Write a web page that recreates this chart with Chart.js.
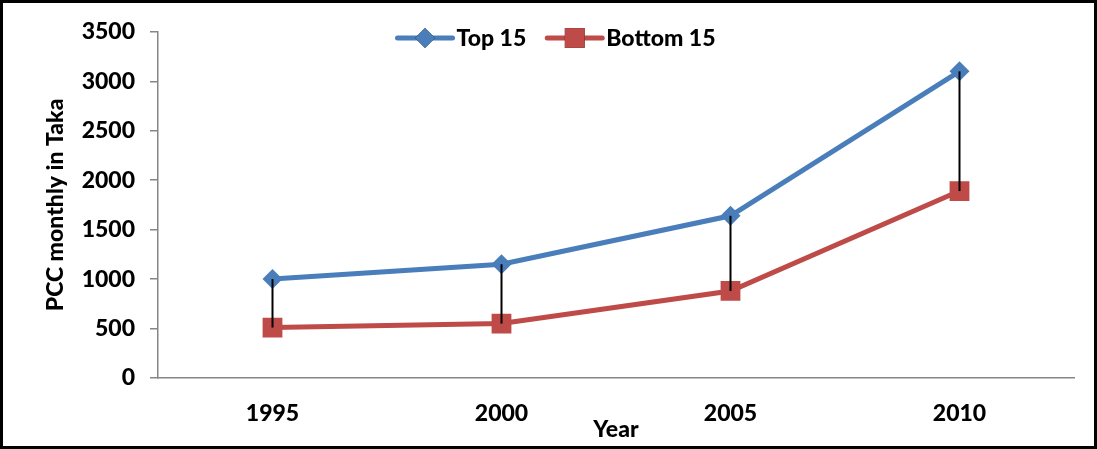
<!DOCTYPE html>
<html>
<head>
<meta charset="utf-8">
<script src="https://cdn.jsdelivr.net/npm/chart.js@4.4.1/dist/chart.umd.min.js"></script>
<style>
  html, body { margin: 0; padding: 0; background: #fff; }
  #wrap { width: 1097px; height: 449px; box-sizing: border-box; border: 3px solid #000; position: relative; }
  #wrap canvas { display: block; }
</style>
</head>
<body>
<div id="wrap"><canvas id="lineChart" width="1091" height="443"></canvas></div>
<script>
const years = ['1995', '2000', '2005', '2010'];
const top15 = [1000, 1150, 1640, 3100];
const bottom15 = [510, 550, 880, 1890];
const yTicks = [0, 500, 1000, 1500, 2000, 2500, 3000, 3500];

const FONT = 'Lato, "Open Sans", sans-serif';
const WEIGHT = '900';
const BLUE = '#4a7ebb';
const RED = '#be4b48';
const AXIS = '#868686';

// black vertical lines joining the two series at each year
const highLowLines = {
  id: 'highLowLines',
  afterDatasetsDraw(chart) {
    const a = chart.getDatasetMeta(0).data;
    const b = chart.getDatasetMeta(1).data;
    const ctx = chart.ctx;
    ctx.save();
    ctx.strokeStyle = '#000';
    ctx.lineWidth = 2;
    for (let i = 0; i < a.length; i++) {
      ctx.beginPath();
      ctx.moveTo(a[i].x, a[i].y);
      ctx.lineTo(b[i].x, b[i].y);
      ctx.stroke();
    }
    ctx.restore();
  }
};

// excel style legend: short line with the marker in the middle
const lineLegend = {
  id: 'lineLegend',
  afterDraw(chart) {
    const ctx = chart.ctx;
    const lineW = 55, gapText = 4, gapItem = 21;
    ctx.save();
    ctx.font = WEIGHT + ' 23px ' + FONT;
    ctx.textBaseline = 'middle';
    const items = chart.data.datasets.map(ds => ({ ds, w: ctx.measureText(ds.label).width }));
    let total = 0;
    items.forEach((it, i) => { total += lineW + gapText + it.w + (i ? gapItem : 0); });
    let x = chart.width / 2 + 8 - total / 2;
    const y = 35;
    items.forEach(it => {
      const ds = it.ds;
      ctx.strokeStyle = ds.borderColor;
      ctx.lineWidth = ds.borderWidth;
      ctx.lineCap = 'round';
      ctx.beginPath();
      ctx.moveTo(x, y);
      ctx.lineTo(x + lineW, y);
      ctx.stroke();
      Chart.helpers.drawPoint(ctx, {
        pointStyle: ds.pointStyle, radius: ds.pointRadius, borderWidth: 0, rotation: 0
      }, x + lineW / 2, y);
      ctx.fillStyle = ds.backgroundColor;
      ctx.fill();
      ctx.fillStyle = '#000';
      ctx.fillText(ds.label, x + lineW + gapText, y + 1);
      x += lineW + gapText + it.w + gapItem;
    });
    ctx.restore();
  }
};

new Chart(document.getElementById('lineChart'), {
  type: 'line',
  data: {
    labels: years,
    datasets: [
      {
        label: 'Top 15',
        data: top15,
        borderColor: BLUE,
        backgroundColor: BLUE,
        borderWidth: 5,
        pointStyle: 'rectRot',
        pointRadius: 10,
        pointBorderWidth: 0,
        tension: 0
      },
      {
        label: 'Bottom 15',
        data: bottom15,
        borderColor: RED,
        backgroundColor: RED,
        borderWidth: 5,
        pointStyle: 'rect',
        pointRadius: 14,
        pointBorderWidth: 0,
        tension: 0
      }
    ]
  },
  options: {
    responsive: false,
    animation: false,
    layout: { padding: { top: 27, right: 20, left: 0, bottom: 0 } },
    plugins: {
      legend: { display: false },
      tooltip: { enabled: false }
    },
    scales: {
      y: {
        min: 0,
        max: 3500,
        afterBuildTicks: s => { s.ticks = yTicks.map(v => ({ value: v })); },
        afterFit: s => { s.width = 155; },
        ticks: {
          color: '#000', padding: 15,
          callback: v => String(v),
          font: { family: FONT, size: 23, weight: WEIGHT }
        },
        grid: { drawOnChartArea: false, drawTicks: true, tickLength: 8, color: AXIS, lineWidth: 1.5 },
        border: { color: AXIS, width: 1.5 },
        title: {
          display: true,
          text: 'PCC monthly in Taka',
          color: '#000',
          padding: { top: 39, bottom: 0 },
          font: { family: FONT, size: 23, weight: WEIGHT }
        }
      },
      x: {
        offset: true,
        afterFit: s => { s.height = 68; },
        ticks: { color: '#000', padding: 22, font: { family: FONT, size: 23, weight: WEIGHT } },
        grid: { display: false, drawTicks: false, offset: true },
        border: { display: true, color: AXIS, width: 1.5 },
        title: {
          display: true,
          text: 'Year',
          color: '#000',
          padding: { top: 0, bottom: 3 },
          font: { family: FONT, size: 23, weight: WEIGHT }
        }
      }
    }
  },
  plugins: [highLowLines, lineLegend]
});
</script>
</body>
</html>
